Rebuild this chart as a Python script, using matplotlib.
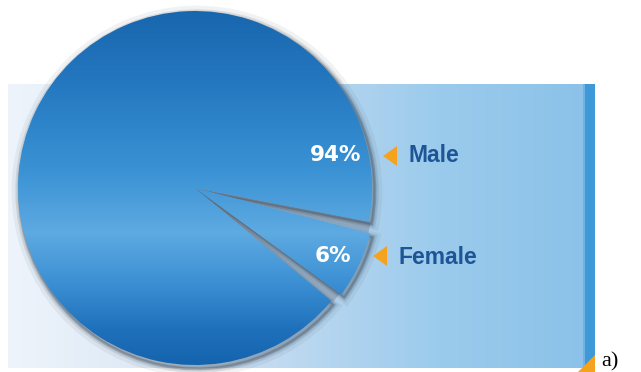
import numpy as np
import matplotlib
matplotlib.use("Agg")
import matplotlib.pyplot as plt
from matplotlib.colors import LinearSegmentedColormap
from matplotlib.patches import Wedge, Polygon, Rectangle

# data
labels = ["Male", "Female"]
values = [94, 6]

W, H = 641, 372

def Y(y):
    # image rows -> data y (up)
    return H - y

fig = plt.figure(figsize=(W / 100, H / 100), dpi=100)
ax = fig.add_axes([0, 0, 1, 1])
ax.set_axis_off()

# background panel with left-to-right gradient
panel_cmap = LinearSegmentedColormap.from_list(
    "panel", ["#eef4fb", "#dce9f6", "#bcd8f0", "#9bcbec", "#8cc2e9"])
ax.imshow(np.linspace(0, 1, 256)[None, :], cmap=panel_cmap, aspect="auto",
          extent=(8, 583, Y(368), Y(84)), zorder=0)
ax.add_patch(Rectangle((583, Y(368)), 12, 284, color="#3f98d7", lw=0, zorder=1))
ax.add_patch(Rectangle((583, Y(368)), 2, 284, color="#6fb3e3", lw=0, zorder=1))
ax.add_patch(Polygon([(578, Y(372)), (595, Y(372)), (595, Y(355))],
                     closed=True, color="#f5a21f", lw=0, zorder=2))

# pie
cx, cy, r = 195, Y(188), 177
wedges, _ = ax.pie(values, startangle=-14.5, counterclock=True,
                   center=(cx, cy), radius=r, frame=True,
                   wedgeprops=dict(linewidth=0))

# small slice is pulled out a bit, big slice trimmed to leave gaps
gap = 3.5
male, female = wedges
male.set_theta1(male.theta1 + gap)
male.set_theta2(male.theta2 - gap)
female.set_radius(r + 4)

pie_cmap = LinearSegmentedColormap.from_list(
    "pie", [(0.0, "#1764ab"), (0.22, "#2478c0"), (0.45, "#3a92d4"),
            (0.62, "#5eaae2"), (0.74, "#3f93d5"), (0.88, "#1f70bb"),
            (1.0, "#1260aa")])

# gaps between slices: grey shading
for t1, t2 in [(female.theta2, male.theta1 + 360),
               (male.theta2 - 360, female.theta1)]:
    ax.add_patch(Wedge((cx, cy), r + 2, t1, t2, color="#8ea3b8",
                       alpha=0.75, lw=0, zorder=3))

for w in wedges:
    w.set_facecolor("none")
    w.set_zorder(5)
    # soft shadow under each slice
    for d, a in [(7, 0.07), (4, 0.12), (2, 0.22)]:
        sh = Wedge((w.center[0] + 2, w.center[1] - 3), w.r + d * 0.5,
                   w.theta1, w.theta2, color="#3c4a58", alpha=a, lw=d,
                   zorder=3)
        ax.add_patch(sh)
    im = ax.imshow(np.linspace(0, 1, 256)[:, None], cmap=pie_cmap,
                   aspect="auto",
                   extent=(cx - r - 10, cx + r + 10, cy - r - 10, cy + r + 10),
                   zorder=4)
    im.set_clip_path(w)

# percentage labels, markers and category names
pct_pos = [(336, 155), (333, 256)]
tri_pos = [(383, 156), (373, 256)]
name_pos = [(408, 155), (398, 257)]
for v, lab, (px, py), (tx, ty), (nx, ny) in zip(values, labels, pct_pos,
                                                  tri_pos, name_pos):
    ax.text(px, Y(py), f"{v}%", color="white", fontsize=15.5,
            fontweight="bold", family="DejaVu Sans", ha="center",
            va="center", zorder=10)
    ax.add_patch(Polygon([(tx, Y(ty)), (tx + 14, Y(ty - 10)),
                          (tx + 14, Y(ty + 10))], closed=True,
                         color="#f5a21f", lw=0, zorder=10))
    ax.text(nx, Y(ny), lab, color="#1d5596", fontsize=16.5,
            fontweight="bold", family="Liberation Sans", ha="left",
            va="center", zorder=10)

ax.text(601, Y(366), "a)", color="black", fontsize=16,
        family="Liberation Serif", ha="left", va="baseline")

ax.set_xlim(0, W)
ax.set_ylim(0, H)
ax.set_aspect("auto")
fig.savefig("out.png", dpi=100)
